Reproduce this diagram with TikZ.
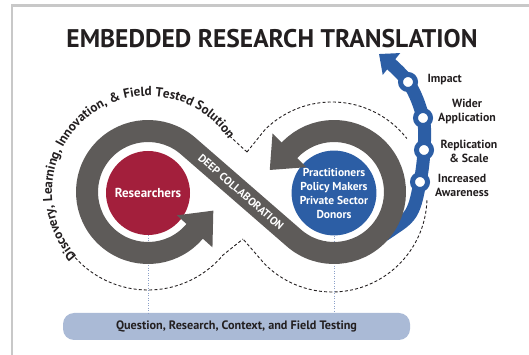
\documentclass[tikz,border=0pt]{standalone}
\usepackage{fontspec}
\setmainfont{PT Sans}
\usetikzlibrary{arrows.meta, calc, decorations.text}

\definecolor{ertgray}{RGB}{94,91,89}
\definecolor{ertred}{RGB}{163,31,60}
\definecolor{ertblue}{RGB}{44,94,165}
\definecolor{ertbar}{RGB}{170,186,214}
\definecolor{ertink}{RGB}{35,31,32}
\definecolor{ertguide}{RGB}{140,160,200}
\definecolor{ertframe}{RGB}{200,200,200}

\begin{document}
\begin{tikzpicture}[
    x=1pt, y=1pt,
    band/.style={draw=ertgray, line width=22pt,
      {Triangle[length=28pt,width=46pt]}-{Triangle[length=28pt,width=46pt]}},
    outline/.style={ertink, line width=0.9pt, dash pattern=on 3pt off 2.2pt},
    hub/.style={circle, minimum size=84pt, inner sep=0pt, text=white, align=center},
    milestone/.style={circle, fill=white, draw=ertblue, line width=5pt, minimum size=15pt, inner sep=0pt},
    tag/.style={text=ertink, align=center, font=\fontsize{11.8}{14}\selectfont\bfseries},
    guide/.style={ertguide, line width=0.6pt, dash pattern=on 1pt off 1.5pt}
  ]
  \useasboundingbox (0,0) rectangle (529,355);
  \draw[ertframe, line width=2.4pt] (529,349.5) -- (12,349.5) -- (12,0);

  \node[font=\fontsize{25.5}{28}\selectfont\bfseries, text=ertink] (title) at (272,316) {EMBEDDED RESEARCH TRANSLATION};

  % loop centres and the crossing of the dashed outline
  \coordinate (L) at (148,163);
  \coordinate (R) at (334,163);
  \coordinate (Rd) at (332,158);
  \coordinate (topV) at (247,203);
  \coordinate (botV) at (243,116);

  % dashed outline of the figure eight
  \draw[outline] (topV) -- ($(L)+(37:98)$);
  \draw[outline] ($(L)+(219:98)$) arc[start angle=219, end angle=320, radius=98] -- (botV);
  \draw[outline] (topV) -- ($(Rd)+(135:95)$) arc[start angle=135, end angle=38, radius=95];
  \draw[outline] ($(Rd)+(-2:95)$) arc[start angle=-2, end angle=-135, radius=95] -- (botV);
  \path[decorate, decoration={text along path, text align=left, text color=ertink,
      text={|\fontsize{13.1}{15}\selectfont\bfseries|Discovery, Learning, Innovation, {\&} Field Tested Solution}}]
    ($(L)+(222:96)$) arc[start angle=222, end angle=10, radius=96];

  % blue arrow growing out of the right loop
  \draw[ertblue, line width=13pt, -{Triangle[length=16pt,width=27pt]}]
    plot[smooth, tension=0.6] coordinates {(363,108) (390,124) (411,142) (420,173) (424,205) (423,237) (408,273) (379,301)};
  \node[milestone] (m1) at (408,273) {};
  \node[milestone] (m2) at (423,237) {};
  \node[milestone] (m3) at (424,205) {};
  \node[milestone] (m4) at (420,173) {};

  \node[hub, fill=ertred, font=\fontsize{13}{15}\selectfont\bfseries] (res) at (148,162) {Researchers};
  \node[hub, fill=ertblue, font=\fontsize{11.5}{14}\selectfont\bfseries] (pra) at (334,162) {Practitioners\\Policy Makers\\Private Sector\\Donors};
  \node[fill=ertbar, rounded corners=11pt, minimum width=347pt, minimum height=27pt, text=ertink,
    font=\fontsize{12.2}{14}\selectfont\bfseries] (base) at (236.5,28.5) {Question, Research, Context, and Field Testing};
  \draw[guide] (res.south) -- (res.south |- base.north);
  \draw[guide] (pra.south) -- (pra.south |- base.north);

  % the grey figure eight with its two heads
  \draw[band] ($(L)+(-42:61)+(48:30)$) -- ($(L)+(-42:61)$)
    arc[start angle=-42, end angle=-311, radius=61]
    -- ($(R)+(229:61)$) arc[start angle=229, end angle=495, radius=61]
    -- ($(R)+(495:61)+(225:30)$);
  \node[rotate=-41, text=white, font=\fontsize{11}{12}\selectfont\bfseries] (deep) at (241,163) {DEEP COLLABORATION};

  \node[tag, anchor=west] (impact) at (424,275) {Impact};
  \node[tag] (wider) at (467,244) {Wider\\Application};
  \node[tag] (scale) at (469,204) {Replication\\\& Scale};
  \node[tag] (aware) at (462,170) {Increased\\Awareness};
\end{tikzpicture}
\end{document}
